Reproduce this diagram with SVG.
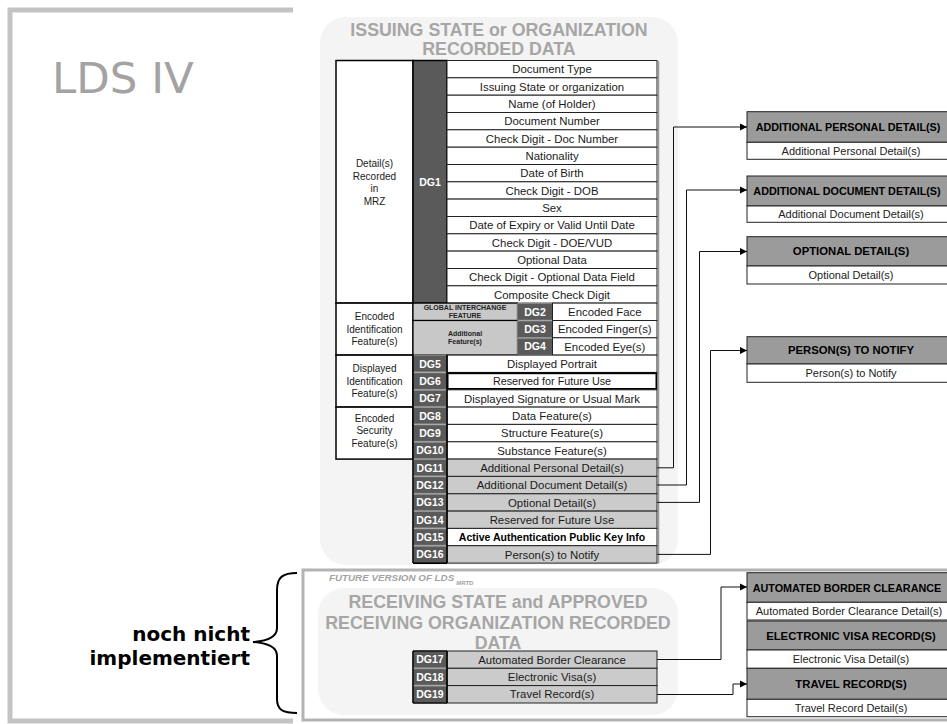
<svg xmlns="http://www.w3.org/2000/svg" width="947" height="724" viewBox="0 0 947 724">
  <defs>
    <style>
      text { font-family: "Liberation Sans", Arial, sans-serif; }
      .title { font-size: 17.8px; font-weight: bold; fill: #a6a6a6; text-anchor: middle; }
      .row { font-size: 11.4px; fill: #1a1a1a; text-anchor: middle; }
      .side { font-size: 10px; fill: #1a1a1a; text-anchor: middle; }
      .dg { font-size: 10.5px; font-weight: bold; fill: #ffffff; text-anchor: middle; }
      .tiny { font-size: 7px; font-weight: bold; fill: #222; text-anchor: middle; }
      .hdr { font-size: 11.3px; font-weight: bold; fill: #000; text-anchor: middle; }
      .hdr-wide { font-size: 10.8px; }
      .det { font-size: 11px; fill: #222; text-anchor: middle; }
      .cell { fill: #ffffff; stroke: #222; stroke-width: 1; }
      .gcell { fill: #cbcbcb; stroke: #222; stroke-width: 1; }
      .side-cell { fill: #ffffff; stroke: #000; stroke-width: 1.5; }
      .dgbox { fill: #5a5a5a; stroke: #8c8c8c; stroke-width: 0.8; }
      .hbox { fill: #9b9b9b; stroke: #222; stroke-width: 1; }
      .dbox { fill: #ffffff; stroke: #222; stroke-width: 1; }
      .wire { fill: none; stroke: #111; stroke-width: 1; marker-end: url(#arrow); }
    </style>
    <marker id="arrow" markerUnits="userSpaceOnUse" markerWidth="8" markerHeight="8" refX="7" refY="4" orient="auto">
      <path d="M0,0.5 L7,4 L0,7.5 z" fill="#000"/>
    </marker>
  </defs>

  <rect width="947" height="724" fill="#ffffff"/>

  <!-- outer bracket frame -->
  <path d="M293,10 H10 V721 H293" fill="none" stroke="#c3c3c3" stroke-width="5"/>
  <text x="52" y="92.5" font-size="43.5" fill="#a3a3a3" style="font-family:'DejaVu Sans',Verdana,sans-serif">LDS IV</text>

  <!-- issuing state panel -->
  <g id="issuing-panel">
    <rect x="320" y="17" width="358" height="548" rx="26" fill="#f4f4f4"/>
    <text class="title" x="499" y="36">ISSUING STATE or ORGANIZATION</text>
    <text class="title" x="499" y="55">RECORDED DATA</text>
  </g>

  <!-- side category cells -->
  <g id="side-mrz">
    <rect class="side-cell" x="336" y="60.5" width="77" height="242.6"/>
    <text class="side" x="374.5" y="167">Detail(s)</text>
    <text class="side" x="374.5" y="179.5">Recorded</text>
    <text class="side" x="374.5" y="192">in</text>
    <text class="side" x="374.5" y="204.5">MRZ</text>
  </g>
  <g id="side-encoded-id">
    <rect class="side-cell" x="336" y="303.1" width="77" height="52"/>
    <text class="side" x="374.5" y="320">Encoded</text>
    <text class="side" x="374.5" y="332.5">Identification</text>
    <text class="side" x="374.5" y="345">Feature(s)</text>
  </g>
  <g id="side-displayed-id">
    <rect class="side-cell" x="336" y="355.1" width="77" height="52"/>
    <text class="side" x="374.5" y="372">Displayed</text>
    <text class="side" x="374.5" y="384.5">Identification</text>
    <text class="side" x="374.5" y="397">Feature(s)</text>
  </g>
  <g id="side-encoded-sec">
    <rect class="side-cell" x="336" y="407.1" width="77" height="52"/>
    <text class="side" x="374.5" y="421.5">Encoded</text>
    <text class="side" x="374.5" y="434">Security</text>
    <text class="side" x="374.5" y="446.5">Feature(s)</text>
  </g>

  <!-- DG1 with MRZ fields -->
  <g id="dg1">
    <rect x="413" y="60.5" width="34" height="242.6" fill="#5a5a5a" stroke="#000" stroke-width="1.5"/>
    <text class="dg" x="430" y="186">DG1</text>
    <rect class="cell" x="447" y="60.5" width="210" height="17.3"/>
    <text class="row" x="552" y="73.3">Document Type</text>
    <rect class="cell" x="447" y="77.8" width="210" height="17.4"/>
    <text class="row" x="552" y="90.6">Issuing State or organization</text>
    <rect class="cell" x="447" y="95.2" width="210" height="17.3"/>
    <text class="row" x="552" y="108">Name (of Holder)</text>
    <rect class="cell" x="447" y="112.5" width="210" height="17.3"/>
    <text class="row" x="552" y="125.3">Document Number</text>
    <rect class="cell" x="447" y="129.8" width="210" height="17.4"/>
    <text class="row" x="552" y="142.6">Check Digit - Doc Number</text>
    <rect class="cell" x="447" y="147.2" width="210" height="17.3"/>
    <text class="row" x="552" y="160">Nationality</text>
    <rect class="cell" x="447" y="164.5" width="210" height="17.3"/>
    <text class="row" x="552" y="177.3">Date of Birth</text>
    <rect class="cell" x="447" y="181.8" width="210" height="17.3"/>
    <text class="row" x="552" y="194.6">Check Digit - DOB</text>
    <rect class="cell" x="447" y="199.1" width="210" height="17.4"/>
    <text class="row" x="552" y="211.9">Sex</text>
    <rect class="cell" x="447" y="216.5" width="210" height="17.3"/>
    <text class="row" x="552" y="229.3">Date of Expiry or Valid Until Date</text>
    <rect class="cell" x="447" y="233.8" width="210" height="17.3"/>
    <text class="row" x="552" y="246.6">Check Digit - DOE/VUD</text>
    <rect class="cell" x="447" y="251.1" width="210" height="17.4"/>
    <text class="row" x="552" y="263.9">Optional Data</text>
    <rect class="cell" x="447" y="268.5" width="210" height="17.3"/>
    <text class="row" x="552" y="281.3">Check Digit - Optional Data Field</text>
    <rect class="cell" x="447" y="285.8" width="210" height="17.3"/>
    <text class="row" x="552" y="298.6">Composite Check Digit</text>
  </g>

  <!-- biometric feature groups -->
  <g id="global-feature">
    <rect x="413" y="303.1" width="104.5" height="17.4" fill="#c8c8c8" stroke="#000" stroke-width="1.2"/>
    <text class="tiny" x="465" y="310.3">GLOBAL INTERCHANGE</text>
    <text class="tiny" x="465" y="318">FEATURE</text>
  </g>
  <g id="additional-feature">
    <rect x="413" y="320.5" width="104.5" height="34.6" fill="#c8c8c8" stroke="#000" stroke-width="1.2"/>
    <text class="tiny" x="465" y="336">Additional</text>
    <text class="tiny" x="465" y="344.3">Feature(s)</text>
  </g>
  <g id="dg2">
    <rect class="dgbox" x="517.5" y="303.6" width="35" height="16.5" stroke="#222" stroke-width="1.2"/>
    <text class="dg" x="535" y="315.6">DG2</text>
    <rect class="cell" x="552.5" y="303.1" width="104.5" height="17.4"/>
    <text class="row" x="604.8" y="315.9">Encoded Face</text>
  </g>
  <g id="dg3">
    <rect class="dgbox" x="517.5" y="321" width="35" height="16.4" stroke="#222" stroke-width="1.2"/>
    <text class="dg" x="535" y="333">DG3</text>
    <rect class="cell" x="552.5" y="320.5" width="104.5" height="17.3"/>
    <text class="row" x="604.8" y="333.3">Encoded Finger(s)</text>
  </g>
  <g id="dg4">
    <rect class="dgbox" x="517.5" y="338.3" width="35" height="16.4" stroke="#222" stroke-width="1.2"/>
    <text class="dg" x="535" y="350.3">DG4</text>
    <rect class="cell" x="552.5" y="337.8" width="104.5" height="17.3"/>
    <text class="row" x="604.8" y="350.6">Encoded Eye(s)</text>
  </g>

  <!-- DG5 .. DG16 -->
  <g id="dg5">
    <rect class="dgbox" x="413.5" y="355.6" width="33" height="16.3"/>
    <text class="dg" x="430" y="367.5">DG5</text>
    <rect class="cell" x="447" y="355.1" width="210" height="17.3"/>
    <text class="row" x="552" y="367.9">Displayed Portrait</text>
  </g>
  <g id="dg6">
    <rect class="dgbox" x="413.5" y="372.9" width="33" height="16.4"/>
    <text class="dg" x="430" y="384.8">DG6</text>
    <rect x="447.5" y="373.2" width="209" height="15.8" fill="#fff" stroke="#000" stroke-width="2"/>
    <text class="row" x="552" y="385" style="font-size:10.8px">Reserved for Future Use</text>
  </g>
  <g id="dg7">
    <rect class="dgbox" x="413.5" y="390.3" width="33" height="16.3"/>
    <text class="dg" x="430" y="402.2">DG7</text>
    <rect class="cell" x="447" y="389.8" width="210" height="17.3"/>
    <text class="row" x="552" y="402.6">Displayed Signature or Usual Mark</text>
  </g>
  <g id="dg8">
    <rect class="dgbox" x="413.5" y="407.6" width="33" height="16.3"/>
    <text class="dg" x="430" y="419.5">DG8</text>
    <rect class="cell" x="447" y="407.1" width="210" height="17.3"/>
    <text class="row" x="552" y="419.9">Data Feature(s)</text>
  </g>
  <g id="dg9">
    <rect class="dgbox" x="413.5" y="424.9" width="33" height="16.4"/>
    <text class="dg" x="430" y="436.8">DG9</text>
    <rect class="cell" x="447" y="424.4" width="210" height="17.4"/>
    <text class="row" x="552" y="437.2">Structure Feature(s)</text>
  </g>
  <g id="dg10">
    <rect class="dgbox" x="413.5" y="442.3" width="33" height="16.3"/>
    <text class="dg" x="430" y="454.2">DG10</text>
    <rect class="cell" x="447" y="441.8" width="210" height="17.3"/>
    <text class="row" x="552" y="454.6">Substance Feature(s)</text>
  </g>
  <g id="dg11">
    <rect class="dgbox" x="413.5" y="459.6" width="33" height="16.3"/>
    <text class="dg" x="430" y="471.5">DG11</text>
    <rect class="gcell" x="447" y="459.1" width="210" height="17.3"/>
    <text class="row" x="552" y="471.9">Additional Personal Detail(s)</text>
  </g>
  <g id="dg12">
    <rect class="dgbox" x="413.5" y="476.9" width="33" height="16.4"/>
    <text class="dg" x="430" y="488.8">DG12</text>
    <rect class="gcell" x="447" y="476.4" width="210" height="17.4"/>
    <text class="row" x="552" y="489.2">Additional Document Detail(s)</text>
  </g>
  <g id="dg13">
    <rect class="dgbox" x="413.5" y="494.3" width="33" height="16.3"/>
    <text class="dg" x="430" y="506.2">DG13</text>
    <rect class="gcell" x="447" y="493.8" width="210" height="17.3"/>
    <text class="row" x="552" y="506.6">Optional Detail(s)</text>
  </g>
  <g id="dg14">
    <rect class="dgbox" x="413.5" y="511.6" width="33" height="16.3"/>
    <text class="dg" x="430" y="523.5">DG14</text>
    <rect class="gcell" x="447" y="511.1" width="210" height="17.3"/>
    <text class="row" x="552" y="523.9">Reserved for Future Use</text>
  </g>
  <g id="dg15">
    <rect class="dgbox" x="413.5" y="528.9" width="33" height="16.3"/>
    <text class="dg" x="430" y="540.8">DG15</text>
    <rect class="cell" x="447" y="528.4" width="210" height="17.3"/>
    <text class="row" x="552" y="541" style="font-size:10.5px;font-weight:bold;fill:#000">Active Authentication Public Key Info</text>
  </g>
  <g id="dg16">
    <rect class="dgbox" x="413.5" y="546.2" width="33" height="16.4"/>
    <text class="dg" x="430" y="558.1">DG16</text>
    <rect class="gcell" x="447" y="545.7" width="210" height="17.4"/>
    <text class="row" x="552" y="558.5">Person(s) to Notify</text>
  </g>
  <!-- heavy edges of the DG column and shadow of the field column -->
  <path d="M413,355.1 V563.1 M447,355.1 V563.1 M413,563.1 H447" fill="none" stroke="#000" stroke-width="1.6"/>
  <path d="M658.5,61 V563.5" fill="none" stroke="#9a9a9a" stroke-width="1.5"/>

  <!-- future version frame -->
  <g id="future-frame">
    <rect x="303" y="570" width="660" height="150" fill="#ffffff" stroke="#b3b3b3" stroke-width="3"/>
    <text x="329" y="581" font-size="9.8" font-style="italic" font-weight="bold" fill="#a3a3a3">FUTURE VERSION OF LDS<tspan font-size="6" dy="4" dx="2">MRTD</tspan></text>
  </g>
  <g id="receiving-panel">
    <rect x="318" y="588" width="360" height="127" rx="26" fill="#f4f4f4"/>
    <text class="title" x="498" y="607.5">RECEIVING STATE and APPROVED</text>
    <text class="title" x="498" y="629">RECEIVING ORGANIZATION RECORDED</text>
    <text class="title" x="498" y="648.5">DATA</text>
  </g>
  <g id="dg17">
    <rect class="dgbox" x="413.5" y="651.5" width="33" height="16.3"/>
    <text class="dg" x="430" y="663.4">DG17</text>
    <rect class="gcell" x="447" y="651" width="210" height="17.3"/>
    <text class="row" x="552" y="663.8">Automated Border Clearance</text>
  </g>
  <g id="dg18">
    <rect class="dgbox" x="413.5" y="668.8" width="33" height="16.3"/>
    <text class="dg" x="430" y="680.7">DG18</text>
    <rect class="gcell" x="447" y="668.3" width="210" height="17.3"/>
    <text class="row" x="552" y="681.1">Electronic Visa(s)</text>
  </g>
  <g id="dg19">
    <rect class="dgbox" x="413.5" y="686.1" width="33" height="16.4"/>
    <text class="dg" x="430" y="698">DG19</text>
    <rect class="gcell" x="447" y="685.6" width="210" height="17.4"/>
    <text class="row" x="552" y="698.4">Travel Record(s)</text>
  </g>
  <path d="M413,651 V703 M447,651 V703 M413,703 H447 M413,651 H447" fill="none" stroke="#000" stroke-width="1.6"/>

  <!-- detail record boxes -->
  <g id="personal-detail">
    <rect class="hbox" x="747" y="111.7" width="210" height="30.6"/>
    <text class="hdr hdr-wide" x="848" y="131">ADDITIONAL PERSONAL DETAIL(S)</text>
    <rect class="dbox" x="747" y="142.3" width="210" height="17"/>
    <text class="det" x="851" y="154.5">Additional Personal Detail(s)</text>
  </g>
  <g id="document-detail">
    <rect class="hbox" x="747" y="176" width="210" height="30"/>
    <text class="hdr hdr-wide" x="847" y="195">ADDITIONAL DOCUMENT DETAIL(S)</text>
    <rect class="dbox" x="747" y="206" width="210" height="16.3"/>
    <text class="det" x="851" y="218">Additional Document Detail(s)</text>
  </g>
  <g id="optional-detail">
    <rect class="hbox" x="747" y="236.7" width="210" height="29.3"/>
    <text class="hdr" x="851" y="255.4">OPTIONAL DETAIL(S)</text>
    <rect class="dbox" x="747" y="266" width="210" height="18"/>
    <text class="det" x="851" y="278.8">Optional Detail(s)</text>
  </g>
  <g id="persons-notify">
    <rect class="hbox" x="747" y="336.7" width="210" height="27.3"/>
    <text class="hdr" x="851" y="354.4">PERSON(S) TO NOTIFY</text>
    <rect class="dbox" x="747" y="364" width="210" height="18.3"/>
    <text class="det" x="851" y="377">Person(s) to Notify</text>
  </g>
  <g id="abc-record">
    <rect class="hbox" x="747" y="572.7" width="210" height="29.6"/>
    <text class="hdr hdr-wide" x="847" y="591.5">AUTOMATED BORDER CLEARANCE</text>
    <rect class="dbox" x="747" y="602.3" width="210" height="17.7"/>
    <text class="det" x="849" y="615">Automated Border Clearance Detail(s)</text>
  </g>
  <g id="visa-record">
    <rect class="hbox" x="747" y="621" width="210" height="29"/>
    <text class="hdr" x="851" y="639.5">ELECTRONIC VISA RECORD(S)</text>
    <rect class="dbox" x="747" y="650" width="210" height="18.3"/>
    <text class="det" x="851" y="663">Electronic Visa Detail(s)</text>
  </g>
  <g id="travel-record">
    <rect class="hbox" x="747" y="668.3" width="210" height="31"/>
    <text class="hdr" x="851" y="688">TRAVEL RECORD(S)</text>
    <rect class="dbox" x="747" y="699.3" width="210" height="17.4"/>
    <text class="det" x="851" y="712">Travel Record Detail(s)</text>
  </g>

  <!-- connectors -->
  <g id="connectors">
    <path class="wire" d="M657,467.8 H673.5 V127 H747"/>
    <path class="wire" d="M657,485 H686.5 V190 H747"/>
    <path class="wire" d="M657,502.4 H699.5 V251.5 H747"/>
    <path class="wire" d="M657,554.4 H710.5 V350.5 H747"/>
    <path class="wire" d="M657,659.5 H721 V587 H747"/>
    <path class="wire" d="M657,694.5 H733 V684 H747"/>
  </g>

  <!-- brace and annotation -->
  <g id="not-implemented">
    <path d="M297,573 C283,573 277,577 277,590 L277,628 C277,637 268,641 253,642 C268,643 277,647 277,656 L277,699 C277,710 283,713 297,713" fill="none" stroke="#000" stroke-width="2"/>
    <text x="250" y="641" font-size="20" font-weight="bold" fill="#000" text-anchor="end" style="font-family:'DejaVu Sans',Verdana,sans-serif">noch nicht</text>
    <text x="250" y="665" font-size="20" font-weight="bold" fill="#000" text-anchor="end" style="font-family:'DejaVu Sans',Verdana,sans-serif">implementiert</text>
  </g>
</svg>
